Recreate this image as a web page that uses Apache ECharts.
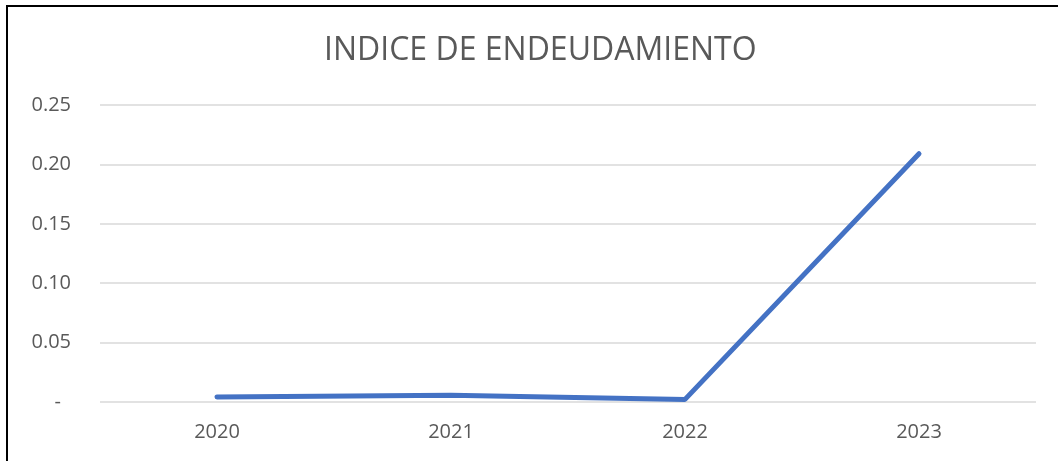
<!DOCTYPE html>
<html lang="es">
<head>
    <meta charset="UTF-8">
    <title>Indice de endeudamiento</title>
    <script src="https://cdn.jsdelivr.net/npm/echarts@6/dist/echarts.min.js"></script>
    <style>
        html, body { margin: 0; padding: 0; background: #fff; }
        #frame {
            position: absolute; left: 6px; top: 5px; width: 1100px; height: 500px;
            border-left: 2px solid #000; border-top: 2px solid #000;
        }
        #chart { position: absolute; left: 0; top: 0; width: 1058px; height: 461px; }
    </style>
</head>
<body>
<div id="frame"></div>
<div id="chart"></div>
<script>
    var years = ['2020', '2021', '2022', '2023'];
    var indice = [0.0042, 0.0056, 0.0022, 0.209];
    var yTicks = [0, 0.05, 0.10, 0.15, 0.20, 0.25];

    var chart = echarts.init(document.getElementById('chart'));
    chart.setOption({
        backgroundColor: 'transparent',
        title: {
            text: 'INDICE DE ENDEUDAMIENTO',
            left: 319,
            top: 30,
            textStyle: {
                fontFamily: 'Open Sans',
                fontSize: 32,
                fontWeight: 'normal',
                color: '#595959'
            }
        },
        grid: { left: 100, right: 22, top: 105, bottom: 59 },
        xAxis: {
            type: 'category',
            data: years,
            boundaryGap: true,
            axisLine: { show: false },
            axisTick: { show: false },
            axisLabel: {
                margin: 20,
                fontFamily: 'Open Sans',
                fontSize: 20,
                color: '#595959'
            }
        },
        yAxis: {
            type: 'value',
            min: yTicks[0],
            max: yTicks[yTicks.length - 1],
            interval: 0.05,
            axisLine: { show: false },
            axisTick: { show: false },
            splitLine: { lineStyle: { color: '#d9d9d9', width: 1.5 } },
            axisLabel: {
                margin: 29,
                fontFamily: 'Open Sans',
                fontSize: 20,
                color: '#595959',
                formatter: function (v) {
                    return v === 0 ? '{d|-}' : v.toFixed(2);
                },
                rich: {
                    d: { fontFamily: 'Open Sans', fontSize: 20, color: '#595959', padding: [0, 10, 0, 0] }
                }
            }
        },
        series: [{
            type: 'line',
            data: indice,
            symbol: 'none',
            lineStyle: { color: '#4472C4', width: 5, cap: 'round', join: 'round' },
            animation: false
        }]
    });
</script>
</body>
</html>
